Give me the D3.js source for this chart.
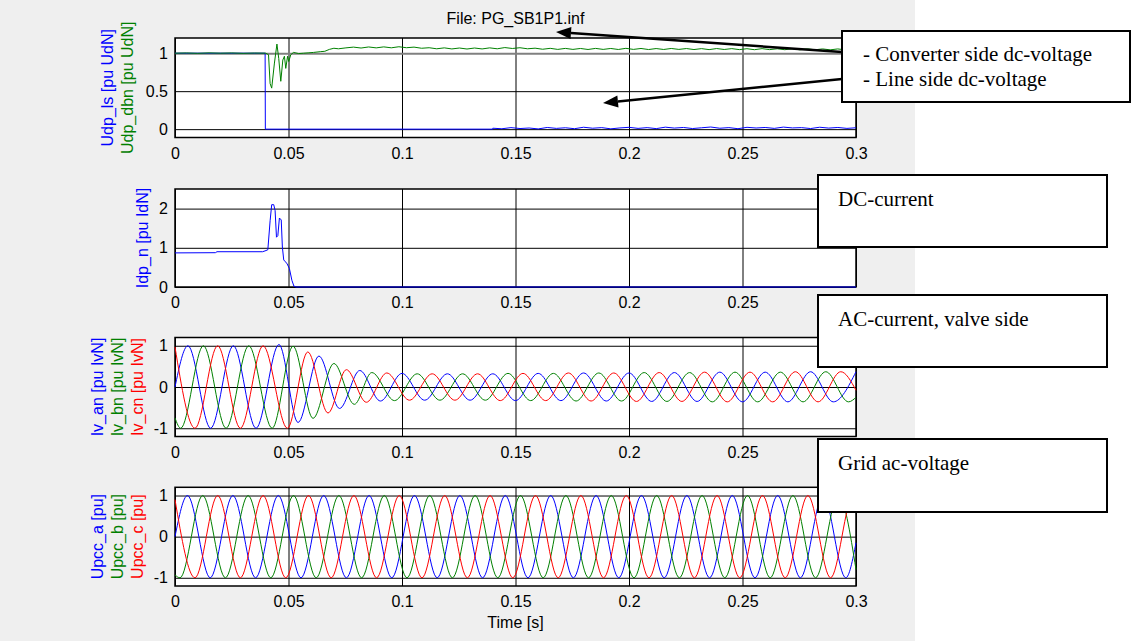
<!DOCTYPE html>
<html>
<head>
<meta charset="utf-8">
<script src="https://cdn.jsdelivr.net/npm/d3@7"></script>
<style>
  body { margin: 0; background: #fff; }
  svg text { font-family: "Liberation Sans", Arial, sans-serif; }
</style>
</head>
<body>
<div id="fig"></div>
<script>
var svgWidth = 1131;
var svgHeight = 641;

// ticks
var xTicks = [0, 0.05, 0.1, 0.15, 0.2, 0.25, 0.3];
var udpTicks = [0, 0.5, 1];
var idpTicks = [0, 1, 2];
var acTicks = [-1, 0, 1];

// dc voltages [t, pu]
var udpLs = [[0, 1], [0.0397, 1], [0.0398, 0], [0.14, 0]];
var udpLsNoise = [0.012, 0.005, 0.02, 0.008, 0.015, 0.003, 0.022, 0.01, 0.018, 0.006, 0.025, 0.012, 0.02, 0.004,
  0.016, 0.024, 0.01, 0.02, 0.007, 0.026, 0.014, 0.022, 0.008, 0.018, 0.028, 0.012, 0.02, 0.006, 0.024, 0.015,
  0.022, 0.01, 0.027, 0.016, 0.02, 0.008, 0.025, 0.014, 0.022, 0.01, 0.018];
var udpDbn = [[0, 1.0], [0.005, 1.003], [0.01, 0.998], [0.015, 1.004], [0.02, 1.0], [0.025, 1.003], [0.03, 0.998],
  [0.035, 1.002], [0.04, 1.0], [0.0412, 0.98], [0.0419, 0.6], [0.0426, 0.54], [0.0438, 0.87], [0.0449, 1.12],
  [0.0457, 0.93], [0.0466, 0.63], [0.0475, 0.91], [0.0482, 0.96], [0.0488, 0.8], [0.0496, 0.96], [0.0501, 0.89],
  [0.051, 0.98], [0.0522, 1.01], [0.0545, 0.995], [0.0566, 1.0], [0.059, 1.005], [0.061, 1.01], [0.064, 1.02],
  [0.066, 1.025], [0.068, 1.05], [0.07, 1.065], [0.072, 1.058]];
var udpDbnRipple = [1.07, 1.08, 1.068, 1.082, 1.07, 1.083, 1.071, 1.085, 1.072, 1.08, 1.065, 1.072, 1.058, 1.07,
  1.056, 1.068, 1.055, 1.068, 1.056, 1.07, 1.058, 1.074, 1.062, 1.072, 1.058, 1.066, 1.052, 1.064, 1.05, 1.063,
  1.05, 1.062, 1.049, 1.063, 1.05, 1.062, 1.049, 1.064, 1.05, 1.062, 1.048, 1.061, 1.049, 1.062, 1.05, 1.061,
  1.048, 1.06, 1.047, 1.061, 1.049, 1.06, 1.047, 1.059, 1.046, 1.06, 1.047, 1.058, 1.046, 1.058, 1.045, 1.057,
  1.045, 1.056, 1.044, 1.056, 1.044, 1.055];

// dc current [t, pu]
var idpN = [[0, 0.87], [0.0178, 0.875], [0.0185, 0.9], [0.0386, 0.9], [0.0401, 0.93], [0.0409, 0.95],
  [0.0419, 1.69], [0.0426, 2.1], [0.0435, 2.1], [0.0441, 1.95], [0.0447, 1.27], [0.0453, 1.31], [0.046, 1.76],
  [0.0468, 1.71], [0.0473, 1.02], [0.0479, 0.69], [0.0487, 0.64], [0.0494, 0.59], [0.0504, 0.47],
  [0.0515, 0.17], [0.0524, 0.02], [0.0534, 0], [0.3, 0]];

// valve side ac currents, peaks and troughs [t, pu]
var ivA = [[0, 0], [0.0057, 1.0], [0.0157, -1.0], [0.0257, 1.0], [0.0357, -1.0], [0.0458, 1.03], [0.0542, -0.86],
  [0.0634, 0.75], [0.0725, -0.52], [0.0814, 0.4], [0.0905, -0.34], [0.1, 0.33], [0.11, -0.32], [0.12, 0.32],
  [0.13, -0.32], [0.14, 0.32], [0.15, -0.33], [0.16, 0.33], [0.17, -0.33], [0.18, 0.34], [0.19, -0.34],
  [0.2, 0.34], [0.21, -0.35], [0.22, 0.35], [0.23, -0.35], [0.24, 0.36], [0.25, -0.36], [0.26, 0.36],
  [0.27, -0.36], [0.28, 0.37], [0.29, -0.36], [0.3, 0.37]];
var ivB = [[0, -0.75], [0.0025, -1.0], [0.0125, 1.0], [0.0225, -1.0], [0.0325, 1.0], [0.0428, -1.0], [0.052, 0.99],
  [0.0608, -0.76], [0.07, 0.57], [0.079, -0.42], [0.0867, 0.35], [0.0967, -0.33], [0.1067, 0.32], [0.1167, -0.32],
  [0.1267, 0.32], [0.1367, -0.32], [0.1467, 0.33], [0.1567, -0.33], [0.1667, 0.33], [0.1767, -0.34],
  [0.1867, 0.34], [0.1967, -0.34], [0.2067, 0.35], [0.2167, -0.35], [0.2267, 0.35], [0.2367, -0.36],
  [0.2467, 0.36], [0.2567, -0.36], [0.2667, 0.36], [0.2767, -0.36], [0.2867, 0.37], [0.2967, -0.36], [0.3, -0.25]];
var ivC = [[0, 0.97], [0.0088, -1.0], [0.0188, 1.0], [0.0288, -1.0], [0.0388, 1.0], [0.0495, -1.0], [0.0585, 0.85],
  [0.0674, -0.63], [0.0755, 0.42], [0.0843, -0.37], [0.0933, 0.34], [0.1033, -0.32], [0.1133, 0.32],
  [0.1233, -0.32], [0.1333, 0.32], [0.1433, -0.33], [0.1533, 0.33], [0.1633, -0.33], [0.1733, 0.34],
  [0.1833, -0.34], [0.1933, 0.34], [0.2033, -0.35], [0.2133, 0.35], [0.2233, -0.35], [0.2333, 0.36],
  [0.2433, -0.36], [0.2533, 0.36], [0.2633, -0.36], [0.2733, 0.37], [0.2833, -0.36], [0.2933, 0.37], [0.3, -0.08]];

// grid voltages: start value, peaks/troughs every half cycle, end value
var upccA = [0, 1, -1, 1, -1, 1, -1, 1, -1, 1, -1, 1, -1, 1, -1, 1, -1, 1, -1, 1, -1, 1, -1, 1, -1, 1, -1, 1, -1, 1, -1, -0.15];
var upccB = [-0.93, -1, 1, -1, 1, -1, 1, -1, 1, -1, 1, -1, 1, -1, 1, -1, 1, -1, 1, -1, 1, -1, 1, -1, 1, -1, 1, -1, 1, -1, 1, -0.8];
var upccC = [0.9, -1, 1, -1, 1, -1, 1, -1, 1, -1, 1, -1, 1, -1, 1, -1, 1, -1, 1, -1, 1, -1, 1, -1, 1, -1, 1, -1, 1, -1, 1, 0.99];
var upccT = {
  a: [0].concat(d3.range(0.0055, 0.3, 0.01), [0.3]),
  b: [0].concat(d3.range(0.0022, 0.3, 0.01), [0.3]),
  c: [0].concat(d3.range(0.0088, 0.3, 0.01), [0.3])
};

function zip(ts, vs) { return ts.map(function(t, i) { return [t, vs[i]]; }); }

var blue = "#0000ff", green = "#008000", red = "#ff0000";

var svg = d3.select("#fig").append("svg")
  .attr("width", svgWidth)
  .attr("height", svgHeight);

svg.append("rect").attr("width", 915).attr("height", svgHeight).attr("fill", "#efefef");

var x = d3.scaleLinear().domain([0, 0.3]).range([175, 856]);

// the last x label of panels 2 and 3 sits under a note box, as in the original
var panels = [
  {
    top: 38, bottom: 137.5, domain: [-0.11, 1.2], ticks: udpTicks, grayTick: 1,
    labels: [["Udp_ls [pu UdN]", blue, 112.5], ["Udp_dbn [pu UdN]", green, 133]],
    series: [
      { data: udpLs.concat(zip(d3.range(0.14, 0.3001, 0.004), udpLsNoise)), color: blue, curve: d3.curveLinear },
      { data: udpDbn.concat(zip(d3.range(0.0753, 0.299, 0.003333), udpDbnRipple), [[0.3, 1.05]]), color: green, curve: d3.curveLinear }
    ]
  },
  {
    top: 189, bottom: 287, domain: [0, 2.5], ticks: idpTicks, hideLast: true,
    labels: [["Idp_n [pu IdN]", blue, 148]],
    series: [{ data: idpN, color: blue, curve: d3.curveLinear }]
  },
  {
    top: 337.5, bottom: 436.5, domain: [-1.2, 1.2], ticks: acTicks, hideLast: true,
    labels: [["Iv_an [pu IvN]", blue, 102.5], ["Iv_bn [pu IvN]", green, 122.5], ["Iv_cn [pu IvN]", red, 142.5]],
    series: [
      { data: ivA, color: blue, curve: d3.curveMonotoneX },
      { data: ivB, color: green, curve: d3.curveMonotoneX },
      { data: ivC, color: red, curve: d3.curveMonotoneX }
    ]
  },
  {
    top: 487.3, bottom: 586, domain: [-1.2, 1.2], ticks: acTicks,
    labels: [["Upcc_a [pu]", blue, 102.5], ["Upcc_b [pu]", green, 122.5], ["Upcc_c [pu]", red, 142.5]],
    series: [
      { data: zip(upccT.a, upccA), color: blue, curve: d3.curveMonotoneX },
      { data: zip(upccT.b, upccB), color: green, curve: d3.curveMonotoneX },
      { data: zip(upccT.c, upccC), color: red, curve: d3.curveMonotoneX }
    ]
  }
];

panels.forEach(function(p, i) {
  var y = d3.scaleLinear().domain(p.domain).range([p.bottom, p.top]);
  var w = x(0.3) - x(0), h = p.bottom - p.top;
  var g = svg.append("g");

  g.append("rect").attr("x", x(0)).attr("y", p.top).attr("width", w).attr("height", h).attr("fill", "#fff");

  var xAxis = g.append("g")
    .attr("transform", `translate(0, ${p.bottom})`)
    .call(d3.axisBottom(x).tickValues(xTicks).tickSize(-h).tickPadding(10).tickFormat(String));
  var yAxis = g.append("g")
    .attr("transform", `translate(${x(0)}, 0)`)
    .call(d3.axisLeft(y).tickValues(p.ticks).tickSize(-w).tickPadding(7).tickFormat(String));

  [xAxis, yAxis].forEach(function(a) {
    a.attr("font-size", 16).attr("font-family", null);
    a.select(".domain").remove();
    a.selectAll(".tick line").attr("stroke", "#000").attr("stroke-width", 1);
    a.selectAll(".tick text").attr("fill", "#000");
  });
  if (p.hideLast) {
    xAxis.selectAll(".tick text").filter(function(d) { return d === 0.3; }).remove();
  }
  if (p.grayTick !== undefined) {
    yAxis.selectAll(".tick line").filter(function(d) { return d === p.grayTick; })
      .attr("stroke", "#808080").attr("stroke-width", 2);
  }

  g.append("rect").attr("x", x(0)).attr("y", p.top).attr("width", w).attr("height", h)
    .attr("fill", "none").attr("stroke", "#000").attr("stroke-width", 1.5);

  svg.append("clipPath").attr("id", "clip" + i)
    .append("rect").attr("x", x(0) - 1).attr("y", p.top - 1).attr("width", w + 2).attr("height", h + 2);

  var line = d3.line().x(function(d) { return x(d[0]); }).y(function(d) { return y(d[1]); });
  p.series.forEach(function(s) {
    g.append("path")
      .datum(s.data)
      .attr("clip-path", "url(#clip" + i + ")")
      .attr("fill", "none")
      .attr("stroke", s.color)
      .attr("stroke-width", 1)
      .attr("d", line.curve(s.curve));
  });

  p.labels.forEach(function(l) {
    g.append("text")
      .attr("transform", `translate(${l[2]}, ${(p.top + p.bottom) / 2}) rotate(-90)`)
      .attr("text-anchor", "middle")
      .attr("font-size", 16)
      .attr("fill", l[1])
      .text(l[0]);
  });
});

svg.append("text")
  .attr("x", (x(0) + x(0.3)) / 2).attr("y", 24)
  .attr("text-anchor", "middle").attr("font-size", 16)
  .text("File: PG_SB1P1.inf");

svg.append("text")
  .attr("x", (x(0) + x(0.3)) / 2).attr("y", 628)
  .attr("text-anchor", "middle").attr("font-size", 16)
  .text("Time [s]");

// arrows
function arrow(x1, y1, x2, y2) {
  var ang = Math.atan2(y2 - y1, x2 - x1), len = 15, half = 6;
  var bx = x2 - len * Math.cos(ang), by = y2 - len * Math.sin(ang);
  svg.append("line").attr("x1", x1).attr("y1", y1).attr("x2", bx).attr("y2", by)
    .attr("stroke", "#000").attr("stroke-width", 2.5);
  svg.append("path")
    .attr("d", `M${x2},${y2}L${bx - half * Math.sin(ang)},${by + half * Math.cos(ang)}L${bx + half * Math.sin(ang)},${by - half * Math.cos(ang)}Z`)
    .attr("fill", "#000");
}
arrow(842, 52, 556, 32);
arrow(842, 79, 603, 103);

// note boxes
var notes = [
  { x: 842, y: 31, w: 288, h: 71, lines: ["- Converter side dc-voltage", "- Line side dc-voltage"], tx: 863, ty: 61 },
  { x: 818, y: 175, w: 289, h: 72, lines: ["DC-current"], tx: 838, ty: 206 },
  { x: 818, y: 295, w: 289, h: 72, lines: ["AC-current, valve side"], tx: 838, ty: 326 },
  { x: 818, y: 439, w: 289, h: 73, lines: ["Grid ac-voltage"], tx: 838, ty: 470 }
];
notes.forEach(function(n) {
  svg.append("rect").attr("x", n.x).attr("y", n.y).attr("width", n.w).attr("height", n.h)
    .attr("fill", "#fff").attr("stroke", "#000").attr("stroke-width", 2);
  n.lines.forEach(function(t, k) {
    svg.append("text")
      .attr("x", n.tx).attr("y", n.ty + k * 24.5)
      .attr("font-size", 21)
      .style("font-family", "'Liberation Serif', 'Times New Roman', serif")
      .text(t);
  });
});
</script>
</body>
</html>
